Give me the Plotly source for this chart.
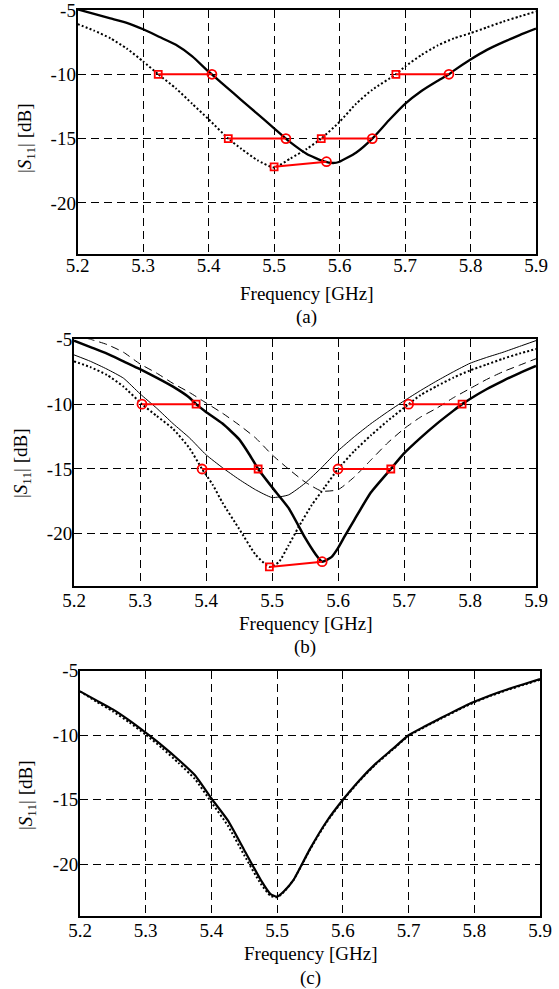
import plotly.graph_objects as go

# ---------------- data ----------------
# Panel (a)
fa_solid = [5.200, 5.225, 5.250, 5.275, 5.300, 5.325, 5.350, 5.375, 5.400, 5.425, 5.450, 5.475, 5.500,
            5.518, 5.525, 5.550, 5.575, 5.590, 5.600, 5.625, 5.650, 5.675, 5.700, 5.725, 5.750, 5.767,
            5.775, 5.800, 5.825, 5.850, 5.875, 5.900]
sa_solid = [-4.95, -5.3, -5.65, -6.0, -6.5, -7.1, -7.7, -8.6, -9.8, -10.9, -12.0, -13.1, -14.2,
            -15.0, -15.3, -16.2, -16.75, -16.9, -16.8, -16.1, -15.0, -13.6, -12.3, -11.3, -10.5, -10.0,
            -9.7, -8.85, -8.1, -7.5, -6.95, -6.45]
fa_dot = [5.200, 5.225, 5.250, 5.275, 5.300, 5.323, 5.350, 5.375, 5.400, 5.430, 5.450, 5.475, 5.500,
          5.525, 5.550, 5.572, 5.600, 5.625, 5.650, 5.686, 5.700, 5.725, 5.750, 5.775, 5.800, 5.825,
          5.850, 5.875, 5.900]
sa_dot = [-6.1, -6.6, -7.2, -8.0, -9.0, -10.0, -11.1, -12.3, -13.5, -15.0, -15.8, -16.7, -17.25,
          -16.55, -15.8, -15.0, -13.7, -12.3, -11.2, -10.0, -9.4, -8.5, -7.75, -7.2, -6.8, -6.35,
          -5.9, -5.5, -5.12]
# red markers (a): square (dotted curve) -> circle (solid curve)
ma_sq_f = [5.323, 5.430, 5.500, 5.572, 5.686]
ma_sq_s = [-10.0, -15.0, -17.2, -15.0, -10.0]
ma_ci_f = [5.405, 5.518, 5.580, 5.650, 5.767]
ma_ci_s = [-10.0, -15.0, -16.8, -15.0, -10.0]

# Panel (b)
fb = [5.200, 5.225, 5.250, 5.275, 5.300, 5.325, 5.350, 5.375, 5.400, 5.425, 5.450, 5.475, 5.500,
      5.525, 5.550, 5.575, 5.600, 5.625, 5.650, 5.675, 5.700, 5.725, 5.750, 5.775, 5.800, 5.825,
      5.850, 5.875, 5.900]
fb_thick = [5.200, 5.225, 5.250, 5.275, 5.300, 5.325, 5.350, 5.375, 5.385, 5.400, 5.425, 5.450, 5.466,
            5.479, 5.500, 5.525, 5.550, 5.565, 5.576, 5.590, 5.600, 5.610, 5.625, 5.650, 5.680, 5.700,
            5.725, 5.750, 5.775, 5.788, 5.800, 5.825, 5.850, 5.875, 5.900]
sb_thick = [-5.1, -5.6, -6.1, -6.7, -7.3, -7.95, -8.65, -9.5, -10.0, -10.6, -11.5, -12.7, -13.9,
            -15.0, -16.4, -18.0, -20.3, -21.5, -22.15, -21.8, -21.1, -20.2, -18.9, -16.8, -15.0, -13.8,
            -12.6, -11.5, -10.5, -10.0, -9.6, -8.85, -8.2, -7.6, -7.05]
fb_dot = [5.200, 5.225, 5.250, 5.275, 5.303, 5.325, 5.350, 5.375, 5.394, 5.410, 5.425, 5.450, 5.475,
          5.496, 5.510, 5.525, 5.540, 5.560, 5.580, 5.600, 5.625, 5.650, 5.675, 5.707, 5.725, 5.750,
          5.775, 5.800, 5.825, 5.850, 5.875, 5.900]
sb_dot = [-6.7, -7.15, -7.75, -8.65, -10.0, -10.9, -11.9, -13.4, -15.0, -16.2, -17.6, -19.6, -21.6,
          -22.55, -22.2, -20.9, -19.5, -17.8, -16.4, -15.0, -13.6, -12.4, -11.3, -10.0, -9.3, -8.6,
          -7.95, -7.4, -6.95, -6.5, -6.1, -5.75]
sb_thin = [-6.2, -6.7, -7.3, -8.0, -9.2, -10.3, -11.5, -12.6, -13.9, -14.9, -15.8, -16.6, -17.2,
           -17.0, -16.1, -14.9, -13.6, -12.5, -11.5, -10.6, -9.75, -8.95, -8.2, -7.5, -6.85, -6.4,
           -6.0, -5.55, -5.1]
sb_dash = [-4.7, -5.0, -5.4, -6.0, -6.9, -7.6, -8.4, -9.1, -9.9, -10.7, -11.6, -12.6, -13.9,
           -15.0, -16.0, -16.7, -16.6, -15.6, -14.3, -13.0, -11.9, -11.0, -10.3, -9.5, -8.8, -8.1,
           -7.5, -7.0, -6.5]
# red markers (b): circle (dotted curve) -> square (thick curve)
mb_ci_f = [5.303, 5.394, 5.576, 5.600, 5.707]
mb_ci_s = [-10.0, -15.0, -22.15, -15.0, -10.0]
mb_sq_f = [5.385, 5.479, 5.496, 5.680, 5.788]
mb_sq_s = [-10.0, -15.0, -22.55, -15.0, -10.0]

# Panel (c)
fc = [5.200, 5.225, 5.250, 5.275, 5.300, 5.325, 5.350, 5.375, 5.400, 5.425, 5.450, 5.475, 5.490,
      5.500, 5.510, 5.525, 5.550, 5.575, 5.600, 5.625, 5.650, 5.675, 5.700, 5.725, 5.750, 5.775,
      5.800, 5.825, 5.850, 5.875, 5.900]
sc_solid = [-6.6, -7.3, -8.0, -8.85, -9.8, -10.8, -11.9, -13.1, -14.9, -16.6, -18.9, -21.2, -22.3,
            -22.5, -22.1, -21.2, -18.8, -16.7, -15.0, -13.5, -12.2, -11.1, -10.0, -9.3, -8.65, -8.0,
            -7.4, -6.9, -6.45, -6.05, -5.65]
sc_dot = [-6.6, -7.4, -8.15, -9.0, -9.95, -11.0, -12.15, -13.4, -15.2, -17.0, -19.3, -21.5, -22.45,
          -22.55, -22.15, -21.2, -18.85, -16.75, -15.05, -13.55, -12.25, -11.15, -10.05, -9.35, -8.7, -8.05,
          -7.45, -6.95, -6.5, -6.1, -5.7]

x_ticks = [5.2, 5.3, 5.4, 5.5, 5.6, 5.7, 5.8, 5.9]
x_tick_text = ["5.2", "5.3", "5.4", "5.5", "5.6", "5.7", "5.8", "5.9"]
y_ticks = [-5, -10, -15, -20]
y_tick_text = ["-5", "-10", "-15", "-20"]
panel_labels = ["(a)", "(b)", "(c)"]
x_title = "Frequency [GHz]"
y_title = "|<i>S</i><sub>11</sub>| [dB]"

# ---------------- figure ----------------
W, H = 559, 989
FONT = "Liberation Serif"
FS = 19
RED = "#ff0000"

fig = go.Figure()

def xd(l, r):
    return [l / W, r / W]

def yd(top, bot):
    return [1 - bot / H, 1 - top / H]

panels = [
    dict(x=xd(77.7, 536), y=yd(10, 254.3), xt=293, pl=317, yl_x=26, yl_y=138, xso=-7),
    dict(x=xd(74, 536), y=yd(339.3, 585.7), xt=623, pl=647, yl_x=22, yl_y=463, xso=-4),
    dict(x=xd(80, 540), y=yd(670.7, 916), xt=953, pl=978, yl_x=27, yl_y=795, xso=-4),
]

def line(xs, ys, ax, width=2.2, dash="solid", color="black"):
    fig.add_trace(go.Scatter(x=xs, y=ys, mode="lines", xaxis=ax[0], yaxis=ax[1],
                             line=dict(color=color, width=width, dash=dash, shape="spline",
                                       smoothing=0.5),
                             showlegend=False, hoverinfo="skip"))

def red_pairs(f1, s1, f2, s2, ax):
    for a, b, c, d in zip(f1, s1, f2, s2):
        fig.add_trace(go.Scatter(x=[a, c], y=[b, d], mode="lines", xaxis=ax[0], yaxis=ax[1],
                                 line=dict(color=RED, width=2), showlegend=False, hoverinfo="skip"))

def red_markers(f, s, symbol, size, ax):
    fig.add_trace(go.Scatter(x=f, y=s, mode="markers", xaxis=ax[0], yaxis=ax[1],
                             marker=dict(symbol=symbol, size=size, color=RED,
                                         line=dict(color=RED, width=1.8)),
                             showlegend=False, hoverinfo="skip"))

DOT = "2px,2.2px"
DASH = "8px,5px"

axA = ("x", "y")
axB = ("x2", "y2")
axC = ("x3", "y3")

# (a)
line(fa_solid, sa_solid, axA, width=2.3)
line(fa_dot, sa_dot, axA, width=2, dash=DOT)
red_pairs(ma_sq_f, ma_sq_s, ma_ci_f, ma_ci_s, axA)
red_markers(ma_sq_f, ma_sq_s, "square-open", 7, axA)
red_markers(ma_ci_f, ma_ci_s, "circle-open", 9, axA)

# (b)
line(fb, sb_thin, axB, width=1)
line(fb, sb_dash, axB, width=1, dash=DASH)
line(fb_dot, sb_dot, axB, width=2, dash=DOT)
line(fb_thick, sb_thick, axB, width=2.5)
red_pairs(mb_ci_f, mb_ci_s, mb_sq_f, mb_sq_s, axB)
red_markers(mb_sq_f, mb_sq_s, "square-open", 7, axB)
red_markers(mb_ci_f, mb_ci_s, "circle-open", 9, axB)

# (c)
line(fc, sc_dot, axC, width=2, dash=DOT)
line(fc, sc_solid, axC, width=2.2)

layout = dict(
    width=W, height=H,
    margin=dict(l=0, r=0, t=0, b=0, pad=0, autoexpand=False),
    paper_bgcolor="white", plot_bgcolor="white",
    font=dict(family=FONT, size=FS, color="black"),
    showlegend=False,
)

annotations = []
for i, p in enumerate(panels):
    sfx = "" if i == 0 else str(i + 1)
    layout["xaxis" + sfx] = dict(
        domain=p["x"], anchor="y" + sfx, range=[5.2, 5.9],
        tickvals=x_ticks, ticktext=x_tick_text,
        showgrid=True, gridcolor="black", gridwidth=1, griddash=DASH,
        showline=True, linecolor="black", linewidth=2, mirror=True,
        ticks="", zeroline=False, automargin=False, ticklabelstandoff=p["xso"],
        ticklabeloverflow="allow",
        tickfont=dict(family=FONT, size=FS, color="black"),
    )
    layout["yaxis" + sfx] = dict(
        domain=p["y"], anchor="x" + sfx, range=[-24, -5],
        tickvals=y_ticks, ticktext=y_tick_text,
        showgrid=True, gridcolor="black", gridwidth=1, griddash=DASH,
        showline=True, linecolor="black", linewidth=2, mirror=True,
        ticks="", zeroline=False, automargin=False, ticklabelstandoff=-4,
        ticklabeloverflow="allow",
        tickfont=dict(family=FONT, size=FS, color="black"),
    )
    cx = (p["x"][0] + p["x"][1]) / 2
    annotations.append(dict(text=x_title, x=cx, y=1 - p["xt"] / H, xref="paper", yref="paper",
                            showarrow=False, xanchor="center", yanchor="middle",
                            font=dict(family=FONT, size=FS, color="black")))
    annotations.append(dict(text=panel_labels[i], x=cx, y=1 - p["pl"] / H, xref="paper", yref="paper",
                            showarrow=False, xanchor="center", yanchor="middle",
                            font=dict(family=FONT, size=FS, color="black")))
    annotations.append(dict(text=y_title, x=p["yl_x"] / W, y=1 - p["yl_y"] / H, xref="paper",
                            yref="paper", showarrow=False, textangle=-90,
                            xanchor="center", yanchor="middle",
                            font=dict(family=FONT, size=FS, color="black")))

layout["annotations"] = annotations
fig.update_layout(**layout)
fig.write_html("out.html", config={"displayModeBar": False},
               post_script="document.body.style.margin='0';document.body.style.overflow='hidden';")
